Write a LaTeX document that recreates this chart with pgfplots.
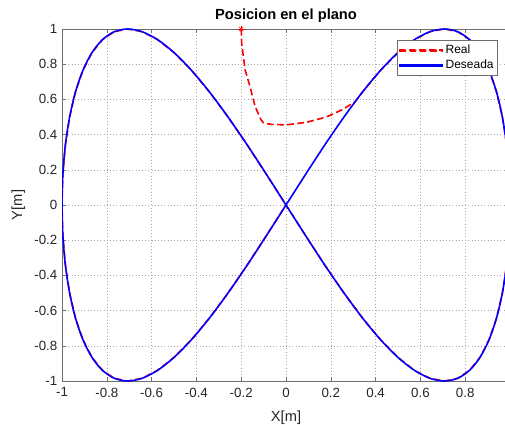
\documentclass[border=0pt]{standalone}
\usepackage{fontspec}
\setmainfont{Liberation Sans}
\usepackage{pgfplots}
\pgfplotsset{compat=1.18}
\definecolor{axgray}{RGB}{110,110,110}
\definecolor{lblgray}{RGB}{38,38,38}

\begin{document}
\begin{tikzpicture}
\begin{axis}[
    name=ax,
    scale only axis,
    width=336pt, height=264pt,
    xmin=-1, xmax=1, ymin=-1, ymax=1,
    xtick={-1,-0.8,-0.6,-0.4,-0.2,0,0.2,0.4,0.6,0.8},
    ytick={-1,-0.8,-0.6,-0.4,-0.2,0,0.2,0.4,0.6,0.8,1},
    grid=major,
    major grid style={dotted, black!35},
    axis line style={axgray},
    tick style={axgray},
    major tick length=3pt,
    tick align=inside,
    ticklabel style={font=\fontsize{10}{11}\selectfont, text=lblgray},
    xticklabel style={yshift=-1.5pt},
    /pgf/number format/assume math mode=true,
    title={\textbf{Posicion en el plano}},
    title style={font=\fontsize{11}{12}\selectfont, yshift=-4.5pt},
    xlabel={X[m]}, ylabel={Y[m]},
    label style={font=\fontsize{11}{12}\selectfont, text=lblgray},
    xlabel style={yshift=-3.5pt},
    legend cell align=left,
    legend style={at={(0.973,0.969)}, anchor=north east,
        font=\fontsize{9}{10}\selectfont, draw=axgray, fill=white,
        inner xsep=1pt, inner ysep=1.5pt, row sep=-0.5pt},
]
% Real
\addplot[red, line width=1.2pt, dash pattern=on 5pt off 2.6pt,
    legend image code/.code={
        \fill[red] (0pt,-0.65pt) rectangle (5pt,0.65pt)
                   (7.6pt,-0.65pt) rectangle (12.6pt,0.65pt)
                   (15.2pt,-0.65pt) rectangle (20.2pt,0.65pt)
                   (22.8pt,-0.65pt) rectangle (27.8pt,0.65pt)
                   (30.4pt,-0.65pt) rectangle (32pt,0.65pt);}] coordinates {
(-0.2,1.0) (-0.198,0.92) (-0.183,0.77) (-0.16,0.67) (-0.138,0.56) (-0.112,0.485)
(-0.1,0.465) (-0.064,0.458) (0,0.455) (0.092,0.47) (0.18,0.50) (0.255,0.544) (0.309,0.588)
(0.3420,0.6428) (0.4226,0.7660) (0.5,0.8660) (0.5736,0.9397) (0.6428,0.9848) (0.7071,1)
(0.7660,0.9848) (0.8192,0.9397) (0.8660,0.8660) (0.9063,0.7660) (0.9397,0.6428)
(0.9659,0.5) (0.9848,0.3420) (0.9962,0.1736) (1,0)
(0.9962,-0.1736) (0.9848,-0.3420) (0.9659,-0.5) (0.9397,-0.6428) (0.9063,-0.7660)
(0.8660,-0.8660) (0.8192,-0.9397) (0.7660,-0.9848) (0.7071,-1) (0.6428,-0.9848)
(0.5736,-0.9397) (0.5,-0.8660) (0.4226,-0.7660) (0.3420,-0.6428) (0.2588,-0.5)
(0.1736,-0.3420) (0.0872,-0.1736) (0,0)
(-0.0872,0.1736) (-0.1736,0.3420) (-0.2588,0.5) (-0.3420,0.6428) (-0.4226,0.7660)
(-0.5,0.8660) (-0.5736,0.9397) (-0.6428,0.9848) (-0.7071,1) (-0.7660,0.9848)
(-0.8192,0.9397) (-0.8660,0.8660) (-0.9063,0.7660) (-0.9397,0.6428) (-0.9659,0.5)
(-0.9848,0.3420) (-0.9962,0.1736) (-1,0)
(-0.9962,-0.1736) (-0.9848,-0.3420) (-0.9659,-0.5) (-0.9397,-0.6428) (-0.9063,-0.7660)
(-0.8660,-0.8660) (-0.8192,-0.9397) (-0.7660,-0.9848) (-0.7071,-1) (-0.6428,-0.9848)
(-0.5736,-0.9397) (-0.5,-0.8660) (-0.4226,-0.7660) (-0.3420,-0.6428) (-0.2588,-0.5)
(-0.1736,-0.3420) (-0.0872,-0.1736) (0,0)
};
\addlegendentry{Real}
% Deseada
\addplot[color=blue, line width=1.2pt, smooth,
    legend image code/.code={\fill[blue] (0pt,-0.65pt) rectangle (32pt,0.65pt);}] coordinates {
(0,0) (0.0872,0.1736) (0.1736,0.3420) (0.2588,0.5) (0.3420,0.6428) (0.4226,0.7660)
(0.5,0.8660) (0.5736,0.9397) (0.6428,0.9848) (0.7071,1) (0.7660,0.9848) (0.8192,0.9397)
(0.8660,0.8660) (0.9063,0.7660) (0.9397,0.6428) (0.9659,0.5) (0.9848,0.3420)
(0.9962,0.1736) (1,0)
(0.9962,-0.1736) (0.9848,-0.3420) (0.9659,-0.5) (0.9397,-0.6428) (0.9063,-0.7660)
(0.8660,-0.8660) (0.8192,-0.9397) (0.7660,-0.9848) (0.7071,-1) (0.6428,-0.9848)
(0.5736,-0.9397) (0.5,-0.8660) (0.4226,-0.7660) (0.3420,-0.6428) (0.2588,-0.5)
(0.1736,-0.3420) (0.0872,-0.1736) (0,0)
(-0.0872,0.1736) (-0.1736,0.3420) (-0.2588,0.5) (-0.3420,0.6428) (-0.4226,0.7660)
(-0.5,0.8660) (-0.5736,0.9397) (-0.6428,0.9848) (-0.7071,1) (-0.7660,0.9848)
(-0.8192,0.9397) (-0.8660,0.8660) (-0.9063,0.7660) (-0.9397,0.6428) (-0.9659,0.5)
(-0.9848,0.3420) (-0.9962,0.1736) (-1,0)
(-0.9962,-0.1736) (-0.9848,-0.3420) (-0.9659,-0.5) (-0.9397,-0.6428) (-0.9063,-0.7660)
(-0.8660,-0.8660) (-0.8192,-0.9397) (-0.7660,-0.9848) (-0.7071,-1) (-0.6428,-0.9848)
(-0.5736,-0.9397) (-0.5,-0.8660) (-0.4226,-0.7660) (-0.3420,-0.6428) (-0.2588,-0.5)
(-0.1736,-0.3420) (-0.0872,-0.1736) (0,0)
};
\addlegendentry{Deseada}
% start marker
\addplot[red, only marks, mark=+, mark size=2.6pt, forget plot] coordinates {(-0.2,1)};
\addplot[red, only marks, mark=x, mark size=2.2pt, forget plot] coordinates {(-0.2,1)};
\end{axis}
\pgfresetboundingbox
\path ([shift={(-46.5pt,-32.25pt)}]ax.south west) rectangle ([shift={(-3.75pt,21.75pt)}]ax.north east);
\end{tikzpicture}
\end{document}
